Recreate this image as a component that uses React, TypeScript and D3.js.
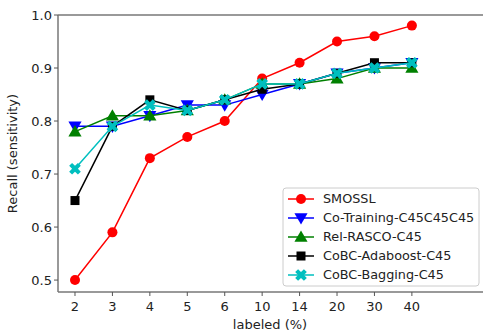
import React from 'react';
import * as d3 from 'd3';

const labeled = ['2', '3', '4', '5', '6', '10', '14', '20', '30', '40'];
const smossl = [0.5, 0.59, 0.73, 0.77, 0.8, 0.88, 0.91, 0.95, 0.96, 0.98];
const coTraining = [0.79, 0.79, 0.81, 0.83, 0.83, 0.85, 0.87, 0.89, 0.9, 0.91];
const relRasco = [0.78, 0.81, 0.81, 0.82, 0.84, 0.87, 0.87, 0.88, 0.9, 0.9];
const cobcAdaboost = [0.65, 0.79, 0.84, 0.82, 0.84, 0.86, 0.87, 0.89, 0.91, 0.91];
const cobcBagging = [0.71, 0.79, 0.83, 0.82, 0.84, 0.87, 0.87, 0.89, 0.9, 0.91];
const yTicks = [0.5, 0.6, 0.7, 0.8, 0.9, 1.0];

const series = [
  { name: 'SMOSSL', values: smossl, color: '#ff0000', marker: 'circle' },
  { name: 'Co-Training-C45C45C45', values: coTraining, color: '#0000ff', marker: 'tridown' },
  { name: 'Rel-RASCO-C45', values: relRasco, color: '#008000', marker: 'triup' },
  { name: 'CoBC-Adaboost-C45', values: cobcAdaboost, color: '#000000', marker: 'square' },
  { name: 'CoBC-Bagging-C45', values: cobcBagging, color: '#00bfbf', marker: 'x' },
];

const font = 'DejaVu Sans, sans-serif';

const Marker = ({ type, x, y, color }: { type: string; x: number; y: number; color: string }) => {
  if (type === 'circle') return <circle cx={x} cy={y} r={5} fill={color} />;
  if (type === 'square') return <rect x={x - 4.5} y={y - 4.5} width={9} height={9} fill={color} />;
  if (type === 'triup') {
    const p = d3.symbol(d3.symbolTriangle, 75)();
    return <path d={p || ''} transform={`translate(${x},${y + 1})`} fill={color} />;
  }
  if (type === 'tridown') {
    const p = d3.symbol(d3.symbolTriangle, 75)();
    return <path d={p || ''} transform={`translate(${x},${y - 1}) rotate(180)`} fill={color} />;
  }
  const p = d3.symbol(d3.symbolCross, 85)();
  return <path d={p || ''} transform={`translate(${x},${y}) rotate(45)`} fill={color} />;
};

export default function App() {
  const left = 58, right = 483, top = 15, bottom = 292;
  const x = d3.scaleLinear().domain([-0.454, 10.9]).range([left, right]);
  const y = d3.scaleLinear().domain([0.4775, 1.0]).range([bottom, top]);
  const line = d3.line<number>().x((_, i) => x(i)).y(d => y(d));

  const lgX = 283, lgY = 188;

  return (
    <svg width={483} height={335} style={{ position: 'absolute', left: 0, top: 0, background: '#fff' }} fontFamily={font}>
      {/* spines */}
      <line x1={left} x2={right} y1={top} y2={top} stroke="#777" strokeWidth={1.5} />
      <line x1={left} x2={right} y1={bottom} y2={bottom} stroke="#777" strokeWidth={1.5} />
      <line x1={left} x2={left} y1={top} y2={bottom} stroke="#777" strokeWidth={1.5} />

      {/* y ticks */}
      {yTicks.map(t => (
        <g key={t}>
          <line x1={left - 4} x2={left} y1={y(t)} y2={y(t)} stroke="#555" />
          <text x={left - 6} y={y(t)} dy="0.35em" textAnchor="end" fontSize={13} fill="#222">{t.toFixed(1)}</text>
        </g>
      ))}

      {/* x ticks */}
      {labeled.map((l, i) => (
        <g key={l}>
          <line x1={x(i)} x2={x(i)} y1={bottom} y2={bottom + 4} stroke="#555" />
          <text x={x(i)} y={bottom + 19} textAnchor="middle" fontSize={13} fill="#222">{l}</text>
        </g>
      ))}

      <text x={270} y={329} textAnchor="middle" fontSize={13} fill="#222">labeled (%)</text>
      <text transform={`translate(17,${(top + bottom) / 2}) rotate(-90)`} textAnchor="middle" fontSize={13} fill="#222">Recall (sensitivity)</text>

      {/* series */}
      {series.map(s => (
        <g key={s.name}>
          <path d={line(s.values) || ''} fill="none" stroke={s.color} strokeWidth={1.5} />
          {s.values.map((v, i) => (
            <Marker key={i} type={s.marker} x={x(i)} y={y(v)} color={s.color} />
          ))}
        </g>
      ))}

      {/* legend */}
      <rect x={lgX} y={lgY} width={196} height={98} rx={3} fill="#fff" fillOpacity={0.8} stroke="#ccc" />
      {series.map((s, i) => {
        const yy = lgY + 11 + i * 19;
        return (
          <g key={s.name}>
            <line x1={lgX + 5} x2={lgX + 31} y1={yy} y2={yy} stroke={s.color} strokeWidth={1.5} />
            <Marker type={s.marker} x={lgX + 18} y={yy} color={s.color} />
            <text x={lgX + 40} y={yy} dy="0.35em" fontSize={12.8} fill="#222">{s.name}</text>
          </g>
        );
      })}
    </svg>
  );
}
